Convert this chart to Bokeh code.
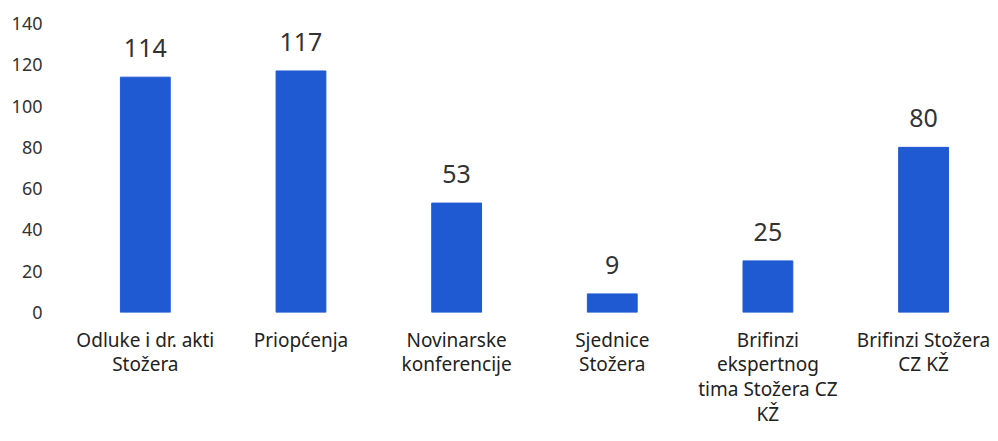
from bokeh.plotting import figure
from bokeh.models import ColumnDataSource, LabelSet, Range1d, FixedTicker
from bokeh.core.properties import value
from bokeh.embed import file_html
from bokeh.resources import INLINE

categories = [
    "Odluke i dr. akti\nStožera",
    "Priopćenja",
    "Novinarske\nkonferencije",
    "Sjednice\nStožera",
    "Brifinzi\nekspertnog\ntima Stožera CZ\nKŽ",
    "Brifinzi Stožera\nCZ KŽ",
]
values = [114, 117, 53, 9, 25, 80]
y_ticks = [0, 20, 40, 60, 80, 100, 120, 140]

positions = list(range(len(categories)))
src = ColumnDataSource(dict(x=positions, top=values, label=[str(v) for v in values]))

FONT = "Noto Sans"

p = figure(width=990, height=433, output_backend="svg", toolbar_location=None,
           x_range=Range1d(-0.5, 5.43), y_range=Range1d(0, 140),
           min_border_left=67, min_border_right=0, min_border_top=23, min_border_bottom=121)

p.vbar(x="x", top="top", width=0.32, source=src, color="#1F5AD2")

labels = LabelSet(x="x", y="top", text="label", source=src, text_align="center",
                  text_baseline="alphabetic", y_offset=20, text_font=value(FONT),
                  text_font_size="25px", text_color="#333333")
p.add_layout(labels)

p.xgrid.visible = False
p.ygrid.visible = False
p.outline_line_color = None

p.xaxis.ticker = FixedTicker(ticks=positions)
p.xaxis.major_label_overrides = {i: c for i, c in zip(positions, categories)}
p.xaxis.axis_line_color = None
p.xaxis.major_tick_line_color = None
p.xaxis.minor_tick_line_color = None
p.xaxis.major_label_standoff = 8
p.xaxis.major_label_text_font = FONT
p.xaxis.major_label_text_font_size = "19px"
p.xaxis.major_label_text_line_height = 0.95
p.xaxis.major_label_text_color = "#222222"

p.yaxis.ticker = FixedTicker(ticks=y_ticks)
p.yaxis.axis_line_color = None
p.yaxis.major_tick_line_color = None
p.yaxis.minor_tick_line_color = None
p.yaxis.major_label_standoff = 19
p.yaxis.major_label_text_font = FONT
p.yaxis.major_label_text_font_size = "18px"
p.yaxis.major_label_text_color = "#333333"

open("out.html", "w").write(file_html(p, INLINE))
